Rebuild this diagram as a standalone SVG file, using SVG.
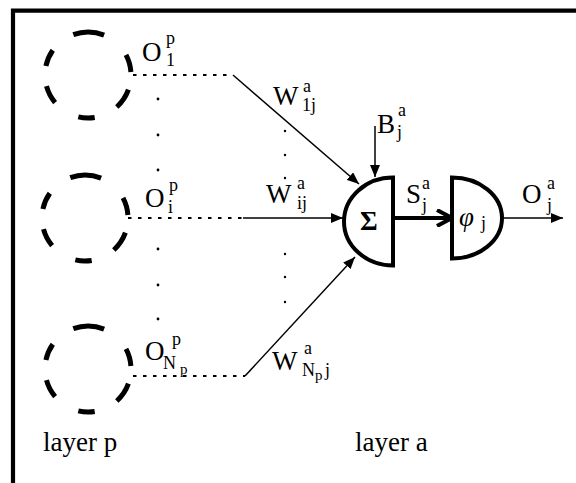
<svg xmlns="http://www.w3.org/2000/svg" xmlns:xlink="http://www.w3.org/1999/xlink" width="576" height="483" viewBox="0 0 576 483">
<style>
text{font-family:"Liberation Serif","Times New Roman",serif;fill:#000}
.m{font-size:27px}
.s{font-size:18px}
.ss{font-size:15px}
.ln{stroke:#000;stroke-width:1.5;fill:none}
.dot{stroke:#000;stroke-width:2;stroke-dasharray:3.5 6.5;fill:none}
.nd{stroke:#000;stroke-width:4;fill:#fff}
.dc{fill:#000}
</style>
<defs>
<marker id="ah" viewBox="0 0 12 10" refX="12" refY="5" markerWidth="12" markerHeight="10" markerUnits="userSpaceOnUse" orient="auto">
<path d="M0,0 L12,5 L0,10 Z" fill="#000"/>
</marker>
<marker id="ahb" viewBox="0 0 18 18" refX="16" refY="9" markerWidth="18" markerHeight="18" markerUnits="userSpaceOnUse" orient="auto">
<path d="M1,1 L16,9 L1,17" fill="none" stroke="#000" stroke-width="4"/>
</marker>
<g id="dcirc" fill="none" stroke="#000" stroke-width="5">
<path d="M-14.7,-40.4 A43,43 0 0 1 16.1,-39.9"/>
<path d="M38.0,-20.2 A43,43 0 0 1 42.9,-3.0"/>
<path d="M40.4,14.7 A43,43 0 0 1 28.8,32.0"/>
<path d="M6.7,42.5 A43,43 0 0 1 -9.7,41.9"/>
<path d="M-32.9,27.6 A43,43 0 0 1 -41.5,11.1"/>
<path d="M-42.1,-8.9 A43,43 0 0 1 -35.2,-24.7"/>
</g>
</defs>
<rect width="576" height="483" fill="#fff"/>
<g id="frame" stroke="#000" stroke-width="4.2" fill="none">
<path d="M13,483 L13,10.6 L576,10.6"/>
</g>
<g id="node-p1"><use xlink:href="#dcirc" transform="translate(88,75)"/></g>
<g id="node-pi"><use xlink:href="#dcirc" transform="translate(85,218)"/></g>
<g id="node-pN"><use xlink:href="#dcirc" transform="translate(88,369)"/></g>
<g id="connectors">
<path class="dot" d="M133,75 L233,75"/>
<path class="dot" d="M128,218 L243,218"/>
<path class="dot" d="M133,376 L245,376"/>
<path class="ln" d="M233,75 L359,184" marker-end="url(#ah)"/>
<path class="ln" d="M243,218 L343,218" marker-end="url(#ah)"/>
<path class="ln" d="M245,376 L355,257" marker-end="url(#ah)"/>
<path class="ln" d="M375,126 L375,177" marker-end="url(#ah)"/>
<path d="M395,218 L452,218" stroke="#000" stroke-width="4" fill="none" marker-end="url(#ahb)"/>
<path class="ln" d="M502,218 L563,218" marker-end="url(#ah)"/>
</g>
<g id="dots">
<circle class="dc" cx="158" cy="99" r="1.4"/>
<circle class="dc" cx="158" cy="135" r="1.4"/>
<circle class="dc" cx="158" cy="170" r="1.4"/>
<circle class="dc" cx="158" cy="249" r="1.4"/>
<circle class="dc" cx="158" cy="285" r="1.4"/>
<circle class="dc" cx="158" cy="319" r="1.4"/>
<circle class="dc" cx="285" cy="131" r="1.2"/>
<circle class="dc" cx="285" cy="155" r="1.2"/>
<circle class="dc" cx="285" cy="178" r="1.2"/>
<circle class="dc" cx="285" cy="254" r="1.2"/>
<circle class="dc" cx="285" cy="277" r="1.2"/>
<circle class="dc" cx="285" cy="302" r="1.2"/>
</g>
<g id="node-sum">
<path class="nd" d="M393,177.5 A49,44 0 0 0 393,265.5 Z"/>
<text class="m" x="360" y="230" font-weight="bold">Σ</text>
</g>
<g id="node-phi">
<path class="nd" d="M452,177.5 A50,40.5 0 0 1 452,258.5 Z"/>
<text class="m" x="459" y="226" font-style="italic">φ</text>
<text class="s" x="481" y="229">j</text>
</g>
<g id="labels">
<text class="m" x="142" y="61">O</text><text class="s" x="166" y="44">p</text><text class="s" x="166" y="66">1</text>
<text class="m" x="145" y="207">O</text><text class="s" x="169" y="191">p</text><text class="s" x="168" y="213">i</text>
<text class="m" x="145" y="360">O</text><text class="s" x="172" y="345">p</text><text class="s" x="163" y="369">N</text><text class="ss" x="180" y="374">p</text>
<text class="m" x="273" y="105">W</text><text class="s" x="303" y="92">a</text><text class="s" x="302" y="111">1j</text>
<text class="m" x="377" y="133">B</text><text class="s" x="398" y="116">a</text><text class="s" x="397" y="138">j</text>
<text class="m" x="266" y="203">W</text><text class="s" x="297" y="189">a</text><text class="s" x="297" y="209">ij</text>
<text class="m" x="406" y="203">S</text><text class="s" x="422" y="189">a</text><text class="s" x="422" y="211">j</text>
<text class="m" x="522" y="203">O</text><text class="s" x="547" y="189">a</text><text class="s" x="547" y="211">j</text>
<text class="m" x="272" y="370">W</text><text class="s" x="304" y="354">a</text><text class="s" x="302" y="376">N</text><text class="ss" x="315" y="380">p</text><text class="s" x="325" y="376">j</text>
<text class="m" x="43" y="451">layer p</text>
<text class="m" x="355" y="451">layer a</text>
</g>
</svg>
